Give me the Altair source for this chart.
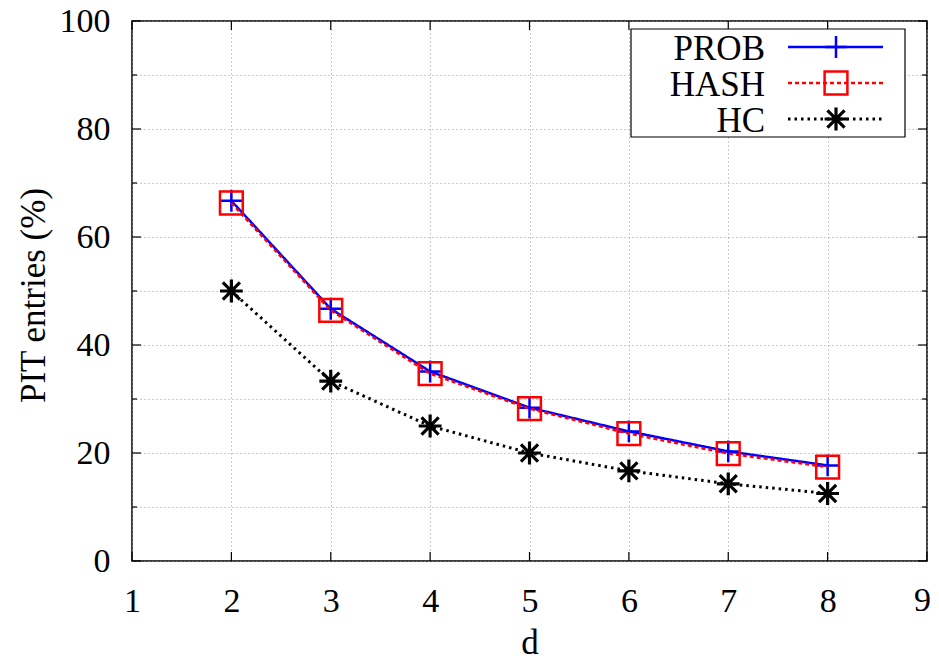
import altair as alt
import pandas as pd

# ---- data ----
d_values = [2, 3, 4, 5, 6, 7, 8]
prob_values = [66.7, 46.7, 35.1, 28.4, 24.0, 20.3, 17.7]
hash_values = [66.3, 46.4, 34.7, 28.2, 23.6, 19.9, 17.4]
hc_values = [50.0, 33.3, 25.0, 20.0, 16.7, 14.3, 12.5]
series_names = ["PROB", "HASH", "HC"]
x_ticks = [1, 2, 3, 4, 5, 6, 7, 8, 9]
x_last = [9]
y_grid = [0, 10, 20, 30, 40, 50, 60, 70, 80, 90, 100]
y_major = [0, 20, 40, 60, 80, 100]
y_minor = [10, 30, 50, 70, 90]

W, H = 795, 540
FONT = "Liberation Serif"
FS = 34
FS_T = 35

xscale = alt.Scale(domain=[1, 9], nice=False, zero=False)
yscale = alt.Scale(domain=[0, 100], nice=False, zero=True)

PLUS = "M-1,0L1,0M0,-1L0,1"
STAR = "M-1,0L1,0M0,-1L0,1M-0.75,-0.75L0.75,0.75M-0.75,0.75L0.75,-0.75"

styles = {
    "PROB": dict(color="#0000ff", dash=[1, 0], shape=PLUS, size=480, width=2.5, mw=2.5),
    "HASH": dict(color="#ff0000", dash=[4, 3], shape="square", size=520, width=2.5, mw=2.5),
    "HC": dict(color="#000000", dash=[2.5, 4], shape=STAR, size=520, width=3, mw=3.2),
}
series_values = {"PROB": prob_values, "HASH": hash_values, "HC": hc_values}

x_axis = alt.Axis(
    values=x_ticks, grid=True, gridDash=[1, 3], gridColor="#999999", gridWidth=1,
    ticks=False, tickSize=0, domain=False, labelFont=FONT, labelFontSize=FS,
    labelColor="black", labelPadding=23, labelOverlap=False, labelFlush=False,
    labelExpr="datum.value == 9 ? '' : datum.label",
    title="d", titleFont=FONT, titleFontSize=FS_T, titleFontWeight="normal",
    titleColor="black", titleX=W / 2, titleY=92, titleAlign="center",
    titleBaseline="alphabetic",
)
y_axis = alt.Axis(
    values=y_grid, grid=True, gridDash=[1, 3], gridColor="#999999", gridWidth=1,
    ticks=False, tickSize=0, domain=False, labelFont=FONT, labelFontSize=FS,
    labelColor="black", labelPadding=22, labelOverlap=False, labelFlush=False,
    labelExpr="datum.value % 20 == 0 ? datum.label : ''",
    title="PIT entries (%)", titleFont=FONT, titleFontSize=FS_T,
    titleFontWeight="normal", titleColor="black", titleAngle=270,
    titleX=-88, titleY=H / 2 + 4, titleAlign="center", titleBaseline="alphabetic",
)

X = alt.X("d:Q", scale=xscale, axis=x_axis)
Y = alt.Y("v:Q", scale=yscale, axis=y_axis)

layers = []

# series lines and points
for name in series_names:
    st = styles[name]
    df = pd.DataFrame({"d": d_values, "v": series_values[name]})
    line = alt.Chart(df).mark_line(
        color=st["color"], strokeWidth=st["width"], strokeDash=st["dash"]
    ).encode(x=X, y=Y)
    pts = alt.Chart(df).mark_point(
        shape=st["shape"], size=st["size"], filled=False, color=st["color"],
        strokeWidth=st["mw"], opacity=1
    ).encode(x=X, y=Y)
    layers += [line, pts]

# inside ticks (gnuplot style, mirrored)
ymaj = pd.DataFrame({"v": y_major})
ymin = pd.DataFrame({"v": y_minor})
xt = pd.DataFrame({"d": x_ticks})
tick = dict(color="black", strokeWidth=1.2)
layers += [
    alt.Chart(ymaj).mark_rule(**tick).encode(y=Y, x=alt.value(0), x2=alt.value(9)),
    alt.Chart(ymaj).mark_rule(**tick).encode(y=Y, x=alt.value(W), x2=alt.value(W - 9)),
    alt.Chart(ymin).mark_rule(**tick).encode(y=Y, x=alt.value(0), x2=alt.value(5)),
    alt.Chart(ymin).mark_rule(**tick).encode(y=Y, x=alt.value(W), x2=alt.value(W - 5)),
    alt.Chart(xt).mark_rule(**tick).encode(x=X, y=alt.value(H), y2=alt.value(H - 9)),
    alt.Chart(xt).mark_rule(**tick).encode(x=X, y=alt.value(0), y2=alt.value(9)),
]

# last x tick label, kept inside the page edge
xl = pd.DataFrame({"d": x_last})
layers.append(
    alt.Chart(xl).mark_text(
        font=FONT, fontSize=FS, align="right", baseline="top", color="black", dx=4
    ).encode(x=X, y=alt.value(H + 23), text=alt.Text("d:Q"))
)

# legend box (gnuplot style: label left, sample right)
box = pd.DataFrame({"k": [0]})
layers.append(
    alt.Chart(box).mark_rect(fill="white", stroke="black", strokeWidth=1.2).encode(
        x=alt.value(499), x2=alt.value(773), y=alt.value(8), y2=alt.value(116)
    )
)
row_y = {"PROB": 26, "HASH": 62, "HC": 98}
for name in series_names:
    st = styles[name]
    ld = pd.DataFrame({"label": [name]})
    yv = row_y[name]
    layers.append(
        alt.Chart(ld).mark_text(
            font=FONT, fontSize=FS_T, align="right", baseline="middle", color="black", dy=2
        ).encode(text="label:N", x=alt.value(633), y=alt.value(yv))
    )
    layers.append(
        alt.Chart(ld).mark_rule(
            color=st["color"], strokeWidth=st["width"], strokeDash=st["dash"]
        ).encode(x=alt.value(656), x2=alt.value(751), y=alt.value(yv))
    )
    layers.append(
        alt.Chart(ld).mark_point(
            shape=st["shape"], size=st["size"], filled=False, color=st["color"],
            strokeWidth=st["mw"], opacity=1
        ).encode(x=alt.value(704), y=alt.value(yv))
    )

chart = alt.layer(*layers).properties(
    width=W,
    height=H,
    autosize=alt.AutoSizeParams(type="none"),
    padding={"left": 124, "top": 13, "right": 4, "bottom": 96},
    background="white",
).configure_view(stroke="black", strokeWidth=1.5)

chart.save("out.html", embed_options={"renderer": "svg", "actions": False})
